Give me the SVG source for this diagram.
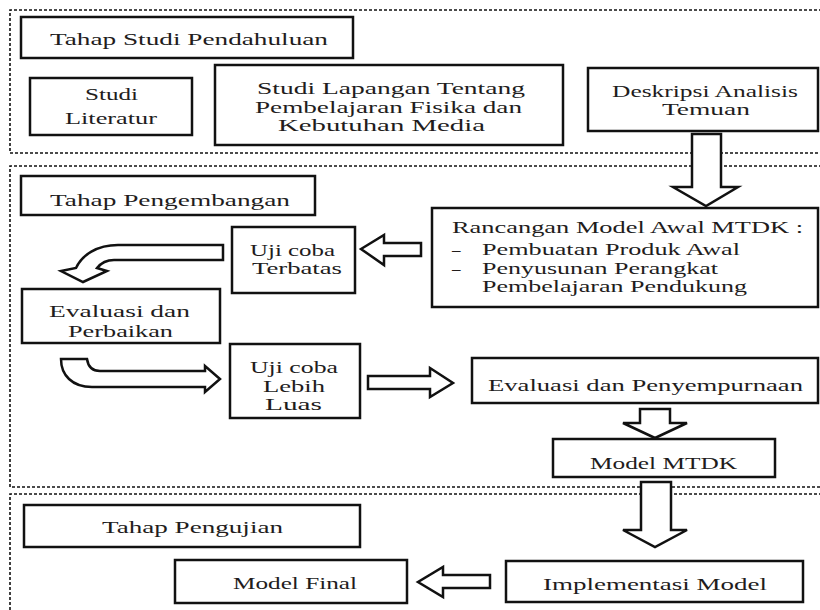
<svg xmlns="http://www.w3.org/2000/svg" width="820" height="610" viewBox="0 0 820 610">
<style>
.sec{fill:none;stroke:#111;stroke-width:1.6;stroke-dasharray:3 2}
.box{fill:#fff;stroke:#111;stroke-width:2.5}
.arr{fill:#fff;stroke:#111;stroke-width:2.5;stroke-linejoin:miter}
text{font-family:"Liberation Serif","Times New Roman",serif;font-size:17px;fill:#221c1c}
.s16{font-size:16px}
</style>
<rect width="820" height="610" fill="#fff"/>
<g id="sections">
<path class="sec" d="M822,10 H10 V153 H822"/>
<path class="sec" d="M822,166 H10 V487 H822"/>
<path class="sec" d="M822,494 H10 V612"/>
</g>
<g id="connectors">
<path class="arr" d="M692,134 H721 V187 H738 L706,206 L673,187 H692 Z"/>
<path class="arr" d="M421,243 V256 H384 V265 L361,249 L384,235 V243 Z"/>
<path class="arr" d="M223,245 H118 C97,245 82,255 76,268 L61,271 L83,282 L107,271 L97,268 C101,263 106,260 114,260 H223 Z"/>
<path class="arr" d="M61,359 H87 C88,366 92,371 100,371 H205 V366 L220,379 L205,392 V387 H92 C72,387 61,375 61,359 Z"/>
<path class="arr" d="M368,376 H430 V368 L453,383 L430,397 V389 H368 Z"/>
<path class="arr" d="M640,409 H670 V423 H687 L655,438 L623,423 H640 Z"/>
<path class="arr" d="M641,482 H671 V530 H687 L655,547 L623,530 H641 Z"/>
<path class="arr" d="M490,575 V588 H443 V597 L418,582 L443,567 V575 Z"/>
</g>
<g id="tahap-studi">
<rect class="box" x="21" y="17" width="332" height="41"/>
<text x="50" y="45" textLength="278" lengthAdjust="spacingAndGlyphs">Tahap Studi Pendahuluan</text>
</g>
<g id="studi-literatur">
<rect class="box" x="30" y="78" width="162" height="57"/>
<text x="85" y="100" textLength="53" lengthAdjust="spacingAndGlyphs">Studi</text>
<text x="65" y="124" textLength="92" lengthAdjust="spacingAndGlyphs">Literatur</text>
</g>
<g id="studi-lapangan">
<rect class="box" x="215" y="65" width="348" height="80"/>
<text x="257" y="94" textLength="268" lengthAdjust="spacingAndGlyphs">Studi Lapangan Tentang</text>
<text x="255" y="113" textLength="267" lengthAdjust="spacingAndGlyphs">Pembelajaran Fisika dan</text>
<text x="278" y="131" textLength="207" lengthAdjust="spacingAndGlyphs">Kebutuhan Media</text>
</g>
<g id="deskripsi">
<rect class="box" x="588" y="68" width="230" height="63"/>
<text x="612" y="97" textLength="186" lengthAdjust="spacingAndGlyphs">Deskripsi Analisis</text>
<text x="662" y="115" textLength="88" lengthAdjust="spacingAndGlyphs">Temuan</text>
</g>
<g id="tahap-pengembangan">
<rect class="box" x="21" y="176" width="294" height="39"/>
<text x="50" y="206" textLength="240" lengthAdjust="spacingAndGlyphs">Tahap Pengembangan</text>
</g>
<g id="rancangan">
<rect class="box" x="432" y="208" width="386" height="99"/>
<text x="452" y="233" textLength="351" lengthAdjust="spacingAndGlyphs">Rancangan Model Awal MTDK :</text>
<text x="452" y="255">–</text>
<text x="482" y="255" textLength="258" lengthAdjust="spacingAndGlyphs">Pembuatan Produk Awal</text>
<text x="452" y="274">–</text>
<text x="482" y="274" textLength="236" lengthAdjust="spacingAndGlyphs">Penyusunan Perangkat</text>
<text x="482" y="292" textLength="265" lengthAdjust="spacingAndGlyphs">Pembelajaran Pendukung</text>
</g>
<g id="uji-terbatas">
<rect class="box" x="232" y="227" width="123" height="66"/>
<text x="250" y="256" textLength="85" lengthAdjust="spacingAndGlyphs">Uji coba</text>
<text x="252" y="274" textLength="90" lengthAdjust="spacingAndGlyphs">Terbatas</text>
</g>
<g id="evaluasi-perbaikan">
<rect class="box" x="22" y="289" width="198" height="54"/>
<text class="s16" x="49" y="317" textLength="141" lengthAdjust="spacingAndGlyphs">Evaluasi dan</text>
<text class="s16" x="68" y="337" textLength="105" lengthAdjust="spacingAndGlyphs">Perbaikan</text>
</g>
<g id="uji-luas">
<rect class="box" x="230" y="344" width="130" height="74"/>
<text x="250" y="373" textLength="88" lengthAdjust="spacingAndGlyphs">Uji coba</text>
<text x="263" y="392" textLength="62" lengthAdjust="spacingAndGlyphs">Lebih</text>
<text x="265" y="410" textLength="57" lengthAdjust="spacingAndGlyphs">Luas</text>
</g>
<g id="evaluasi-penyempurnaan">
<rect class="box" x="472" y="358" width="346" height="45"/>
<text x="488" y="391" textLength="315" lengthAdjust="spacingAndGlyphs">Evaluasi dan Penyempurnaan</text>
</g>
<g id="model-mtdk">
<rect class="box" x="553" y="439" width="222" height="38"/>
<text x="590" y="469" textLength="147" lengthAdjust="spacingAndGlyphs">Model MTDK</text>
</g>
<g id="tahap-pengujian">
<rect class="box" x="24" y="505" width="336" height="42"/>
<text x="102" y="533" textLength="181" lengthAdjust="spacingAndGlyphs">Tahap Pengujian</text>
</g>
<g id="model-final">
<rect class="box" x="175" y="560" width="232" height="43"/>
<text x="233" y="589" textLength="124" lengthAdjust="spacingAndGlyphs">Model Final</text>
</g>
<g id="implementasi">
<rect class="box" x="506" y="561" width="297" height="41"/>
<text x="543" y="590" textLength="224" lengthAdjust="spacingAndGlyphs">Implementasi Model</text>
</g>
</svg>
